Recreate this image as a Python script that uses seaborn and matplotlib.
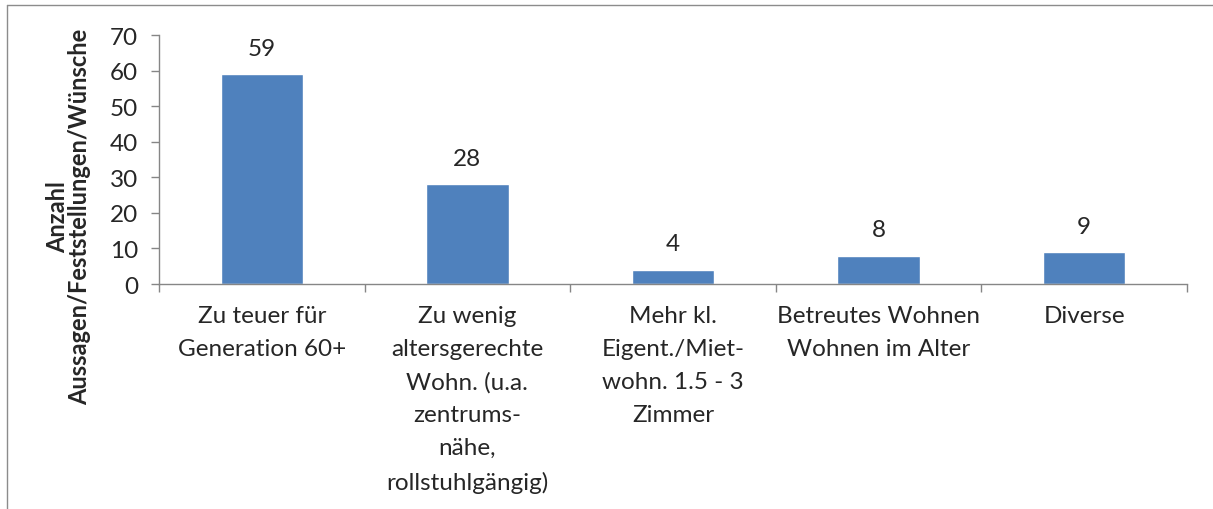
import numpy as np
import pandas as pd
import matplotlib
matplotlib.use("Agg")
import matplotlib.pyplot as plt
import seaborn as sns

categories = [
    "Zu teuer für\nGeneration 60+",
    "Zu wenig\naltersgerechte\nWohn. (u.a.\nzentrums-\nnähe,\nrollstuhlgängig)",
    "Mehr kl.\nEigent./Miet-\nwohn. 1.5 - 3\nZimmer",
    "Betreutes Wohnen\nWohnen im Alter",
    "Diverse",
]
values = [59, 28, 4, 8, 9]
y_ticks = [0, 10, 20, 30, 40, 50, 60, 70]
y_label = "Anzahl\nAussagen/Feststellungen/Wünsche"

df = pd.DataFrame({"category": categories, "count": values})

sns.set_style("white")
plt.rcParams['font.family'] = ['Lato', 'DejaVu Sans']

bar_color = "#4F81BD"
axis_color = "#868686"
fs = 17.5

fig = plt.figure(figsize=(12.13, 5.10), dpi=100)
ax = fig.add_axes([159 / 1213, 1 - 285 / 510, 1028 / 1213, 249 / 510])

sns.barplot(data=df, x="category", y="count", color=bar_color, saturation=1,
            width=0.4, ax=ax)

ax.set_xlim(-0.5, len(categories) - 0.5)
ax.set_ylim(0, 70)
ax.set_yticks(y_ticks)
ax.tick_params(axis='y', labelsize=fs, length=6, width=1, color=axis_color,
               pad=9, left=True, direction='out')
ax.set_xticks(range(len(categories)))
ax.set_xticklabels(categories, fontsize=fs, linespacing=1.7)
ax.tick_params(axis='x', length=0, pad=15)
ax.set_xticks(np.arange(-0.5, len(categories)), minor=True)
ax.tick_params(axis='x', which='minor', length=6, width=1, color=axis_color,
               bottom=True, direction='out')

for side in ['top', 'right']:
    ax.spines[side].set_visible(False)
for side in ['left', 'bottom']:
    ax.spines[side].set_color(axis_color)
    ax.spines[side].set_linewidth(1)

ax.set_xlabel("")
ax.set_ylabel(y_label, fontsize=fs - 0.5, fontweight='bold', linespacing=0.95)
ax.yaxis.set_label_coords(-0.066, 0.273)

for i, v in enumerate(values):
    ax.annotate(str(v), (i, v), xytext=(0, 14), textcoords='offset points',
                ha='center', va='baseline', fontsize=fs)

# outer chart frame (only left and top edges are inside the picture)
line = plt.Line2D([7 / 1213, 7 / 1213], [0, 1 - 6 / 510], transform=fig.transFigure,
                  color="#8C8C8C", linewidth=1)
fig.add_artist(line)
line = plt.Line2D([7 / 1213, 1], [1 - 6 / 510, 1 - 6 / 510], transform=fig.transFigure,
                  color="#8C8C8C", linewidth=1)
fig.add_artist(line)

fig.savefig("out.png", dpi=100)
